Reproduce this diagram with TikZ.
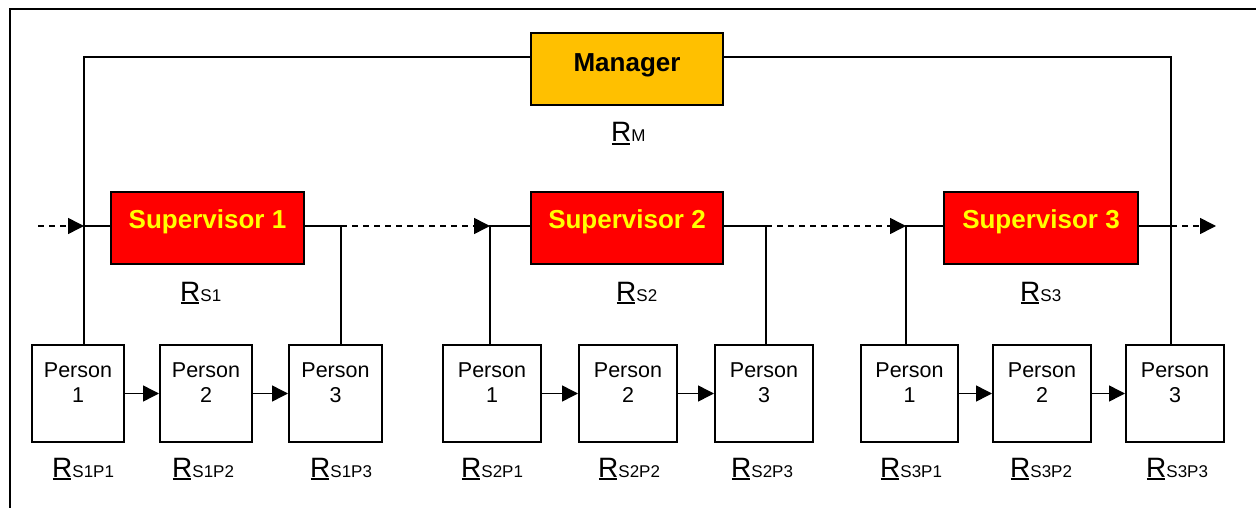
\documentclass[tikz,border=0pt]{standalone}
\usepackage{fontspec}
\setmainfont{Liberation Sans}
\usetikzlibrary{arrows.meta,calc}
\definecolor{mgrfill}{HTML}{FFC000}
\definecolor{supfill}{HTML}{FF0000}
\definecolor{suptext}{HTML}{FFFF00}
\newcommand{\ulR}{\leavevmode\rlap{\kern0.02em\rule[-3pt]{0.66em}{2pt}}R}
\newcommand{\rlab}[1]{{\fontsize{28}{30}\selectfont\ulR}{\fontsize{17}{19}\selectfont #1}}
\begin{document}
\begin{tikzpicture}[x=1pt,y=-1pt,
  conn/.style={line width=1.5pt},
  dconn/.style={line width=1.5pt,dash pattern=on 6pt off 5pt,-{Triangle[length=16pt,width=16pt]}},
  parrow/.style={line width=1.5pt,-{Triangle[length=16pt,width=16pt]}},
  mgrbox/.style={draw,line width=2pt,fill=mgrfill,minimum width=192pt,minimum height=72pt,inner sep=0pt,
    font=\fontsize{26}{30}\selectfont\bfseries,text height=13pt,text depth=7pt},
  supbox/.style={draw,line width=2pt,fill=supfill,minimum height=72pt,inner sep=0pt,text=suptext,
    font=\fontsize{26}{30}\selectfont\bfseries,text height=10pt,text depth=10pt},
  personbox/.style={draw,line width=2pt,fill=white,minimum height=97pt,inner sep=0pt},
  ptext/.style={anchor=north,inner sep=0pt,align=center,font=\fontsize{21.5}{24.5}\selectfont},
  rtext/.style={anchor=base west,inner sep=0pt},
]
\useasboundingbox (0,0) rectangle (1256,508);
% frame
\draw[line width=2pt] (10,508) -- (10,9) -- (1256,9);

% manager & supervisors
\node[mgrbox] (mgr) at (627,69) {Manager};
\node[supbox,minimum width=193pt] (s1) at (207.5,228) {Supervisor 1};
\node[supbox,minimum width=192pt] (s2) at (627,228) {Supervisor 2};
\node[supbox,minimum width=194pt] (s3) at (1041,228) {Supervisor 3};

% persons
\node[personbox,minimum width=92pt] (s1p1) at (78,393.5) {};
\node[personbox,minimum width=92pt] (s1p2) at (206,393.5) {};
\node[personbox,minimum width=93pt] (s1p3) at (335.5,393.5) {};
\node[personbox,minimum width=98pt] (s2p1) at (492,393.5) {};
\node[personbox,minimum width=98pt] (s2p2) at (628,393.5) {};
\node[personbox,minimum width=98pt] (s2p3) at (764,393.5) {};
\node[personbox,minimum width=97pt] (s3p1) at (909.5,393.5) {};
\node[personbox,minimum width=98pt] (s3p2) at (1042,393.5) {};
\node[personbox,minimum width=98pt] (s3p3) at (1175,393.5) {};

\foreach \n/\k in {s1p1/1,s1p2/2,s1p3/3,s2p1/1,s2p2/2,s2p3/3,s3p1/1,s3p2/2,s3p3/3}{
  \node[ptext] (\n t) at ($(\n.north)+(0,19)$) {Person\\\k};
}

% labels
\node[rtext] (rm) at (611,142) {\rlab{M}};
\node[rtext] (rs1) at (180,301) {\rlab{S1}};
\node[rtext] (rs2) at (616,301) {\rlab{S2}};
\node[rtext] (rs3) at (1020,301) {\rlab{S3}};
\node[rtext] (r11) at (52,477) {\rlab{S1P1}};
\node[rtext] (r12) at (172,477) {\rlab{S1P2}};
\node[rtext] (r13) at (310,477) {\rlab{S1P3}};
\node[rtext] (r21) at (461,477) {\rlab{S2P1}};
\node[rtext] (r22) at (598,477) {\rlab{S2P2}};
\node[rtext] (r23) at (731,477) {\rlab{S2P3}};
\node[rtext] (r31) at (880,477) {\rlab{S3P1}};
\node[rtext] (r32) at (1010,477) {\rlab{S3P2}};
\node[rtext] (r33) at (1146,477) {\rlab{S3P3}};

% junction coordinates
\coordinate (in1) at (38,226);
\coordinate (j1) at (84,226);
\coordinate (k1) at (341,226);
\coordinate (j2) at (490,226);
\coordinate (k2) at (766,226);
\coordinate (j3) at (906,226);
\coordinate (k3) at (1171,226);
\coordinate (out) at (1216,226);

% manager connections
\draw[conn] ($(mgr.west)+(0,-12)$) -| ($(s1p1.north)+(6,0)$);
\draw[conn] ($(mgr.east)+(0,-12)$) -| ($(s3p3.north)+(-4,0)$);

% supervisor connections
\draw[conn] ($(s1.west)+(0,-2)$) -- (j1);
\draw[conn] ($(s1.east)+(0,-2)$) -| ($(s1p3.north)+(5.5,0)$);
\draw[conn] ($(s2.west)+(0,-2)$) -| ($(s2p1.north)+(-2,0)$);
\draw[conn] ($(s2.east)+(0,-2)$) -| ($(s2p3.north)+(2,0)$);
\draw[conn] ($(s3.west)+(0,-2)$) -| ($(s3p1.north)+(-3.5,0)$);
\draw[conn] ($(s3.east)+(0,-2)$) -- (k3);

% dashed flow
\draw[dconn] (in1) -- (j1);
\draw[dconn] (k1) -- (j2);
\draw[dconn] (k2) -- (j3);
\draw[dconn] (k3) -- (out);

% person arrows
\draw[parrow] (s1p1.east) -- (s1p2.west);
\draw[parrow] (s1p2.east) -- (s1p3.west);
\draw[parrow] (s2p1.east) -- (s2p2.west);
\draw[parrow] (s2p2.east) -- (s2p3.west);
\draw[parrow] (s3p1.east) -- (s3p2.west);
\draw[parrow] (s3p2.east) -- (s3p3.west);
\end{tikzpicture}
\end{document}
